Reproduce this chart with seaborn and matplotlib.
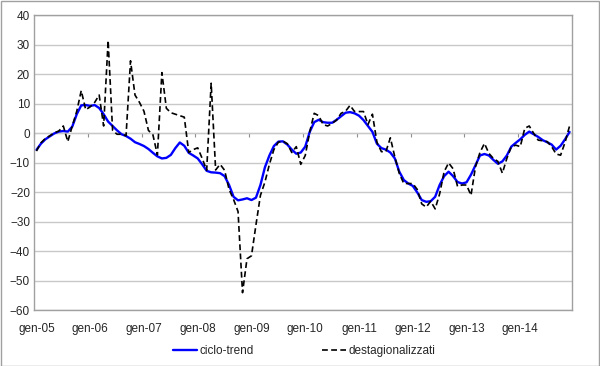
import numpy as np
import pandas as pd
import matplotlib
matplotlib.use("Agg")
import matplotlib.pyplot as plt
import seaborn as sns
from matplotlib.patches import Rectangle

# monthly series, gen-05 .. dic-14
ciclo_trend = [
    -5.6, -3.5, -2.0, -1.0, 0.0, 0.6, 0.8, 0.6, 2.3, 6.5, 9.5, 9.6,
    9.3, 9.6, 8.6, 6.5, 4.0, 2.5, 1.0, -0.3, -0.9, -1.8, -3.0, -3.6,
    -4.3, -5.3, -6.6, -7.8, -8.5, -8.3, -7.3, -5.0, -3.1, -4.2, -6.6, -7.5,
    -8.5, -10.5, -12.7, -13.2, -13.3, -13.5, -14.5, -17.5, -21.5, -22.7, -22.4, -22.0,
    -22.6, -21.8, -17.5, -11.5, -7.5, -4.3, -2.8, -2.7, -3.8, -5.5, -6.9, -6.5,
    -4.5, 0.5, 3.8, 4.6, 3.8, 3.6, 3.6, 4.6, 5.8, 7.0, 7.2, 6.8,
    6.0, 4.5, 2.5, 0.5, -3.5, -5.0, -5.5, -6.5, -8.5, -13.0, -15.8, -17.0,
    -17.8, -20.0, -22.6, -23.2, -23.0, -21.5, -17.5, -14.5, -13.0, -14.5, -16.5, -17.0,
    -16.6, -14.0, -10.8, -7.5, -7.0, -7.5, -9.0, -10.3, -9.5, -7.5, -4.5, -3.2,
    -2.0, -0.5, 0.6, -0.3, -1.2, -2.3, -3.0, -3.8, -5.5, -4.2, -2.0, 0.5,
]
destagionalizzati = [
    -6.0, -3.2, -1.7, -0.8, 0.2, 0.8, 2.5, -2.8, 2.5, 7.5, 14.5, 8.0,
    9.0, 10.5, 13.0, 2.5, 31.5, 1.0, -0.3, -0.3, -0.8, 24.6, 13.0, 10.5,
    7.5, 1.0, -0.5, -7.3, 20.6, 8.5, 7.0, 6.5, 6.0, 5.5, -6.5, -5.5,
    -4.9, -8.5, -12.5, 17.0, -12.4, -10.5, -12.5, -19.0, -22.4, -26.5, -54.0, -42.5,
    -41.5, -31.0, -21.0, -16.5, -10.5, -5.5, -3.0, -2.6, -3.5, -6.5, -4.5, -10.5,
    -7.5, 0.5, 6.8, 6.0, 3.0, 2.5, 3.4, 4.5, 6.8, 7.5, 9.5, 7.4,
    7.4, 7.4, 3.0, 6.5, -3.0, -6.2, -6.2, -1.5, -8.0, -13.6, -17.0, -17.0,
    -17.0, -19.0, -23.9, -25.0, -23.0, -25.6, -20.5, -13.0, -10.0, -12.0, -18.0, -17.5,
    -17.5, -21.0, -11.3, -6.5, -3.4, -6.8, -8.5, -9.5, -13.5, -8.5, -4.5, -4.0,
    -4.5, 1.7, 2.5, 0.0, -2.3, -2.5, -2.8, -4.5, -7.0, -7.4, -3.0, 2.5,
]
year_labels = ["gen-05", "gen-06", "gen-07", "gen-08", "gen-09",
               "gen-10", "gen-11", "gen-12", "gen-13", "gen-14"]

months = np.arange(len(ciclo_trend))
df = pd.DataFrame({"mese": months, "ciclo-trend": ciclo_trend,
                   "destagionalizzati": destagionalizzati})

sns.set_style("white")
plt.rcParams["font.family"] = ["Liberation Sans", "DejaVu Sans"]

fig = plt.figure(figsize=(6, 3.66), dpi=100)
ax = fig.add_axes([0.057, 0.152, 0.896, 0.806])

sns.lineplot(data=df, x="mese", y="ciclo-trend", ax=ax, color="#0000FF",
             lw=1.7, label="ciclo-trend")
sns.lineplot(data=df, x="mese", y="destagionalizzati", ax=ax, color="black",
             lw=1.2, dashes=False, label="destagionalizzati")
ax.lines[1].set_dashes([3.5, 2])

ax.set_xlim(-0.5, len(months) - 0.5)
ax.set_ylim(-60, 40)
ax.set_yticks(range(-60, 41, 10))
ax.yaxis.grid(True, color="#C8C8C8", lw=1)
ax.set_axisbelow(True)
ax.set_xticks(months[::12])
ax.set_xticklabels(year_labels)
ax.tick_params(axis="both", length=0, labelsize=8.5, pad=3)
ax.tick_params(axis="x", pad=9)
ax.set_xlabel("")
ax.set_ylabel("")
for s in ax.spines.values():
    s.set_color("#A0A0A0")
    s.set_linewidth(1)

# category axis crossing at zero, with year tick marks
zero_frac = (0 - (-60)) / 100
sec = ax.secondary_xaxis(zero_frac)
sec.set_xticks(np.arange(-0.5, len(months), 12))
sec.tick_params(axis="x", direction="out", length=3, color="#909090",
                labelbottom=False, labeltop=False, bottom=True, top=False)
sec.spines["bottom"].set_color("#909090")
sec.spines["top"].set_color("#909090")

leg = ax.legend(loc="center", bbox_to_anchor=(0.507, 0.04),
                bbox_transform=fig.transFigure, ncol=2, frameon=False,
                fontsize=8.5, handlelength=2.0, handletextpad=0.2,
                columnspacing=5.8)

fig.patches.append(Rectangle((0.001, 0.001), 0.997, 0.996, fill=False,
                             edgecolor="#A0A0A0", lw=1,
                             transform=fig.transFigure))

fig.savefig("out.png", dpi=100)
plt.close(fig)
